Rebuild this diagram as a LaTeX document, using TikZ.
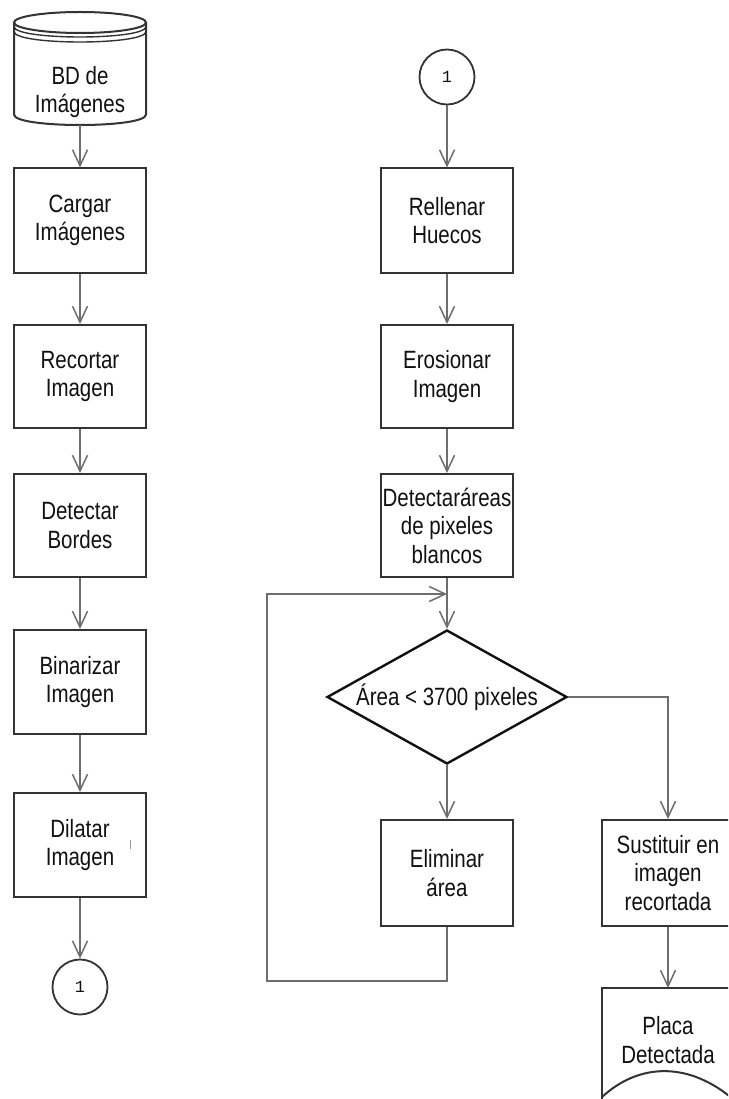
\documentclass[tikz,border=0pt]{standalone}
\usepackage{fontspec}
\setmainfont{Liberation Sans}[FakeStretch=0.82]
\newfontfamily\monofnt{Liberation Mono}
\usetikzlibrary{arrows.meta,shapes.geometric}
\definecolor{boxcol}{HTML}{333333}
\definecolor{linecol}{HTML}{6E6E6E}
\definecolor{txtcol}{HTML}{111111}
\tikzset{
  stepbox/.style={draw=boxcol, line width=2pt, rectangle, minimum width=132pt, inner sep=0pt,
    align=center, text=txtcol, font=\fontsize{25pt}{28.5pt}\selectfont},
  plain/.style={inner sep=0pt, align=center, text=txtcol, font=\fontsize{25pt}{28.5pt}\selectfont},
  conn/.style={draw=linecol, line width=1.5pt},
  arr/.style={-{Straight Barb[length=16pt,width=15pt,line width=1.5pt]}},
  connector/.style={draw=boxcol, line width=1.8pt, circle, minimum size=55pt, inner sep=0pt,
    font=\monofnt\fontsize{17pt}{17pt}\selectfont, text=txtcol},
  shapeline/.style={draw=boxcol, line width=2pt},
}
\begin{document}
\begin{tikzpicture}[x=1pt,y=-1pt]
\useasboundingbox (0,0) rectangle (728,1099);
\fill[white] (0,0) rectangle (728,1099);
\clip (0,0) rectangle (728,1099);

% ---- left column ----
% cylinder (database)
\draw[shapeline, fill=white] (14,22.5) -- (14,114.5) .. controls (14,128.5) and (146,128.5) .. (146,114.5) -- (146,22.5);
\draw[shapeline] (80,22.5) ellipse [x radius=66, y radius=10.5];
\draw[shapeline, line width=1.4pt] (14,26.5) .. controls (14,40.5) and (146,40.5) .. (146,26.5);
\draw[shapeline, line width=1.4pt] (14,31.5) .. controls (14,45.5) and (146,45.5) .. (146,31.5);
\node[plain] (bd) at (80,92) {BD de\\Imágenes};
\coordinate (bdbot) at (80,125);

\node[stepbox, minimum height=104pt] (cargar) at (80,220.5) {Cargar\\Imágenes};
\node[stepbox, minimum height=103pt] (recortar) at (80,376.5) {Recortar\\Imagen};
\node[stepbox, minimum height=103pt] (bordes) at (80,525.5) {Detectar\\Bordes};
\node[stepbox, minimum height=104pt] (binar) at (80,682) {Binarizar\\Imagen};
\node[stepbox, minimum height=104pt] (dilatar) at (80,845) {Dilatar\\Imagen};
\draw[linecol!70, line width=0.8pt] (130,840) -- (130,849);
\node[connector] (c1a) at (80,987) {1};

\draw[conn,arr] (bdbot) -- (cargar.north);
\draw[conn,arr] (cargar.south) -- (recortar.north);
\draw[conn,arr] (recortar.south) -- (bordes.north);
\draw[conn,arr] (bordes.south) -- (binar.north);
\draw[conn,arr] (binar.south) -- (dilatar.north);
\draw[conn,arr] (dilatar.south) -- (c1a.north);

% ---- right column ----
\node[connector] (c1b) at (447,77) {1};
\node[stepbox, minimum height=104pt] (rellenar) at (447,220.5) {Rellenar\\Huecos};
\node[stepbox, minimum height=103pt] (erosionar) at (447,376.5) {Erosionar\\Imagen};
\node[stepbox, minimum height=103pt] (areas) at (447,525.5) {Detectaráreas\\de pixeles\\blancos};
\node[draw=txtcol, line width=2.4pt, diamond, aspect=1.79, minimum width=240pt, minimum height=134pt,
      inner sep=0pt, text=txtcol, font=\fontsize{25pt}{28.5pt}\selectfont] (dec) at (447,697) {Área < 3700 pixeles};
\node[stepbox, minimum height=106pt] (elim) at (447,873) {Eliminar\\área};
\node[stepbox, minimum height=106pt] (sust) at (668,873) {Sustituir en\\imagen\\recortada};

% document shape
\draw[shapeline, fill=white] (602,1099) -- (602,988) -- (734,988) -- (734,1099);
\draw[shapeline] (602,1097) .. controls (640,1062) and (690,1062) .. (734,1100);
\node[plain] (placa) at (668,1040) {Placa\\Detectada};
\coordinate (placatop) at (668,988);

\coordinate (loopBL) at (267,981);
\coordinate (loopIn) at (447,594);

\draw[conn,arr] (c1b.south) -- (rellenar.north);
\draw[conn,arr] (rellenar.south) -- (erosionar.north);
\draw[conn,arr] (erosionar.south) -- (areas.north);
\draw[conn,arr] (areas.south) -- (dec.north);
\draw[conn,arr] (dec.south) -- (elim.north);
\draw[conn,arr] (elim.south) |- (loopBL) |- (loopIn);
\draw[conn,arr] (dec.east) -| (sust.north);
\draw[conn,arr] (sust.south) -- (placatop);
\end{tikzpicture}
\end{document}
